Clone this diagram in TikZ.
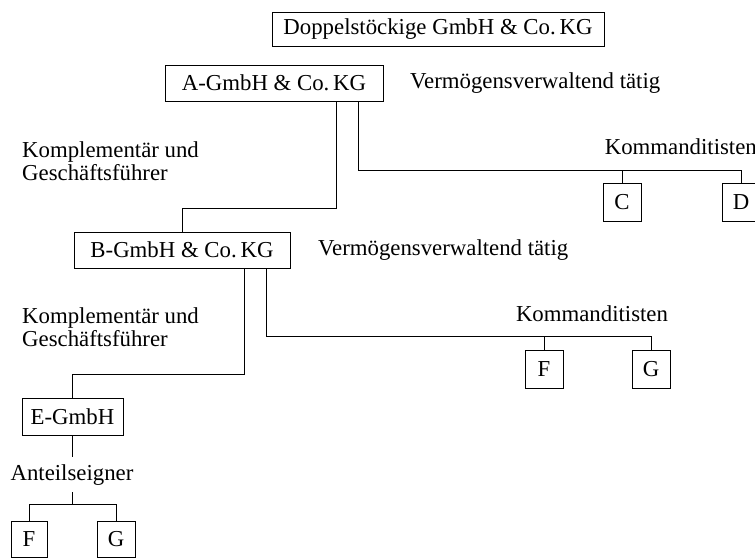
\documentclass[tikz,border=0pt]{standalone}
\usepackage{fontspec}
\setmainfont{Liberation Serif}
\begin{document}
\begin{tikzpicture}[x=1pt,y=-1pt,
  font=\fontsize{22.8}{23}\selectfont,
  box/.style={draw, line width=0.9pt, inner sep=0pt, anchor=center},
  lbl/.style={inner sep=0pt, anchor=west, align=left},
  conn/.style={line width=0.9pt}]
\useasboundingbox (0,0) rectangle (755,557);
% boxes
\node[box, minimum width=332pt, minimum height=34pt] (title) at (438,29) {Doppelstöckige GmbH \& Co.\,KG};
\node[box, minimum width=218pt, minimum height=36pt] (A) at (274,83) {A-GmbH \& Co.\,KG};
\node[box, minimum width=216pt, minimum height=36pt] (B) at (182,250) {B-GmbH \& Co.\,KG};
\node[box, minimum width=38pt, minimum height=38pt] (C) at (622,202) {C};
\node[box, minimum width=38pt, minimum height=38pt] (D) at (741,202) {D};
\node[box, minimum width=38pt, minimum height=38pt] (F1) at (544,369) {F};
\node[box, minimum width=38pt, minimum height=38pt] (G1) at (651,369) {G};
\node[box, minimum width=101pt, minimum height=37pt] (E) at (72.5,416.5) {E-GmbH};
\node[box, minimum width=36pt, minimum height=36pt] (F2) at (29,539) {F};
\node[box, minimum width=38pt, minimum height=36pt] (G2) at (116,539) {G};
% labels
\node[lbl] (v1) at (410,83) {Vermögensverwaltend tätig};
\node[lbl] (k1) at (22,161.5) {Komplementär und\\Geschäftsführer};
\node[lbl, anchor=east] (kd1) at (757,147) {Kommanditisten};
\node[lbl] (v2) at (318,250) {Vermögensverwaltend tätig};
\node[lbl] (k2) at (22,327.5) {Komplementär und\\Geschäftsführer};
\node[lbl, anchor=center] (kd2) at (592,314) {Kommanditisten};
\node[inner xsep=0pt, inner ysep=0pt, text height=15pt, text depth=5pt] (ant) at (72,475) {Anteilseigner};
% connectors
\coordinate (bar1) at (0,170);
\coordinate (bar2) at (0,336);
\coordinate (bar3) at (0,504);
\draw[conn] ([xshift=62pt]A.south) -- ++(0,107) -| (B.north);
\draw[conn] ([xshift=84pt]A.south) |- (bar1 -| D.north) -- (D.north);
\draw[conn] (C.north) -- (C.north |- bar1);
\draw[conn] ([xshift=62pt]B.south) -- ++(0,106) -| (E.north);
\draw[conn] ([xshift=84pt]B.south) |- (bar2 -| G1.north) -- (G1.north);
\draw[conn] (F1.north) -- (F1.north |- bar2);
\draw[conn] (E.south) -- ++(0,22);
\draw[conn] (ant.south |- 0,492) -- (ant.south |- bar3);
\draw[conn] (F2.north) |- (bar3 -| G2.north) -- (G2.north);
\end{tikzpicture}
\end{document}
